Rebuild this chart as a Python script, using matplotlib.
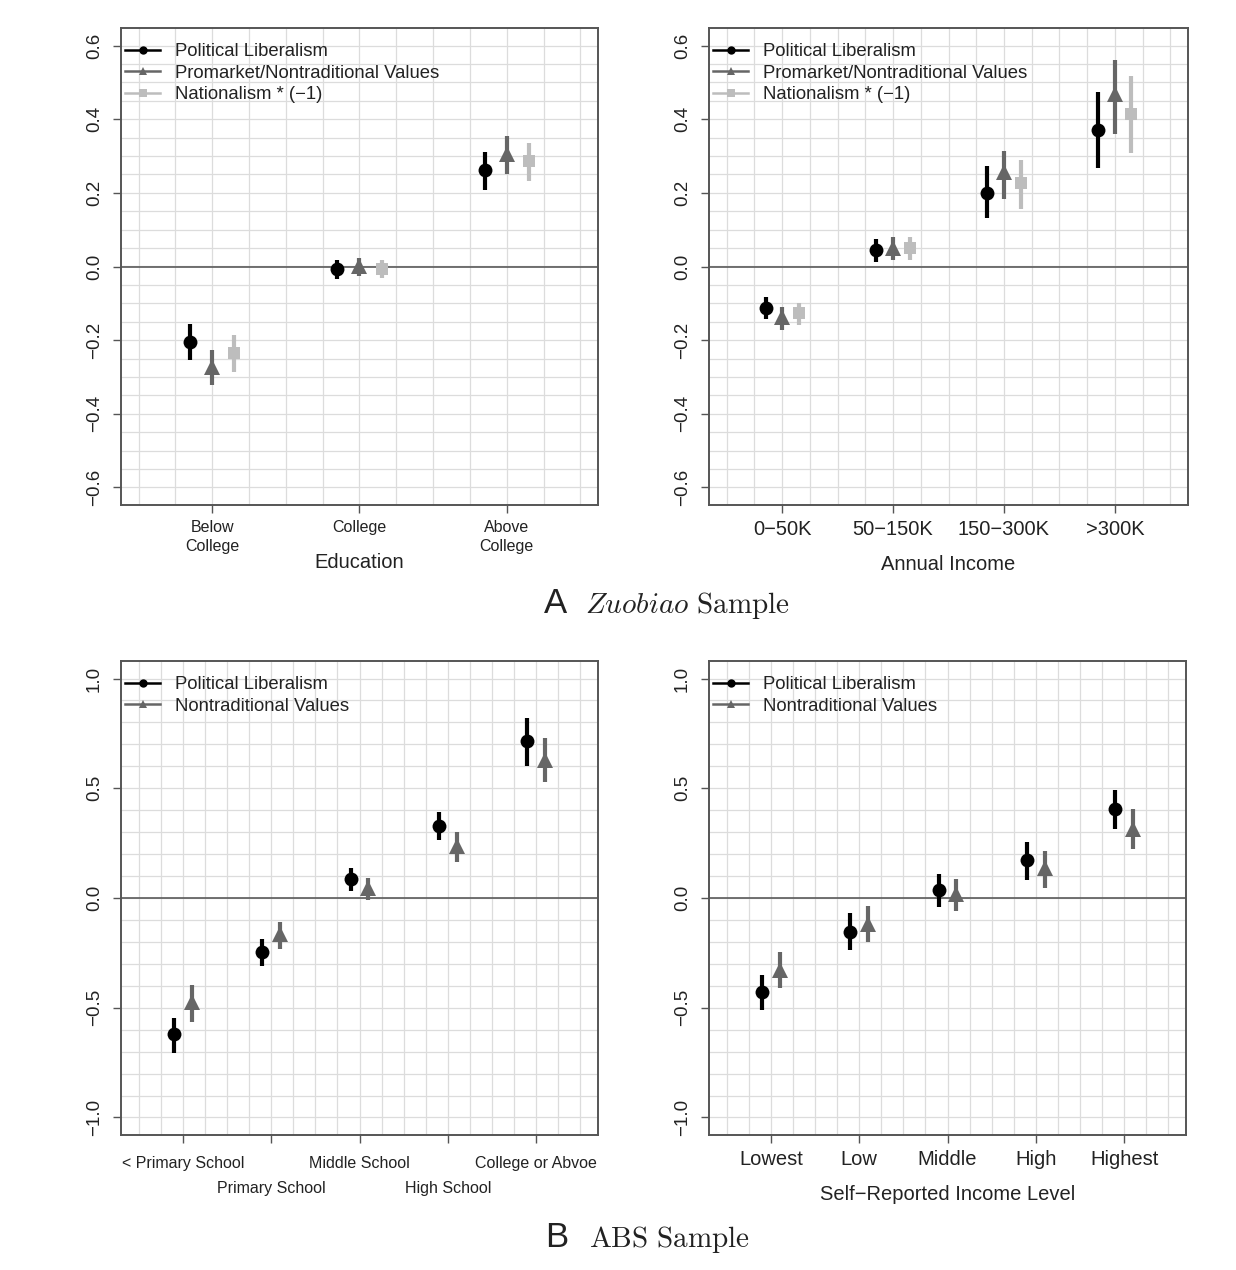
import numpy as np
import matplotlib
matplotlib.use("Agg")
import matplotlib.pyplot as plt
from matplotlib.lines import Line2D

plt.rcParams['font.family'] = ['Liberation Sans', 'DejaVu Sans']

# ---------------- data ----------------
edu_cats = ["Below\nCollege", "College", "Above\nCollege"]
edu_lib = [-0.205, -0.008, 0.261]
edu_lib_lo = [-0.254, -0.033, 0.208]
edu_lib_hi = [-0.157, 0.018, 0.312]
edu_mkt = [-0.272, 0.002, 0.305]
edu_mkt_lo = [-0.323, -0.027, 0.250]
edu_mkt_hi = [-0.227, 0.023, 0.354]
edu_nat = [-0.236, -0.008, 0.286]
edu_nat_lo = [-0.286, -0.030, 0.232]
edu_nat_hi = [-0.186, 0.018, 0.336]

inc_cats = ["0\u221250K", "50\u2212150K", "150\u2212300K", ">300K"]
inc_lib = [-0.113, 0.045, 0.200, 0.372]
inc_lib_lo = [-0.143, 0.013, 0.132, 0.267]
inc_lib_hi = [-0.083, 0.074, 0.272, 0.475]
inc_mkt = [-0.136, 0.051, 0.256, 0.468]
inc_mkt_lo = [-0.172, 0.018, 0.184, 0.360]
inc_mkt_hi = [-0.110, 0.079, 0.315, 0.562]
inc_nat = [-0.127, 0.049, 0.227, 0.414]
inc_nat_lo = [-0.158, 0.018, 0.155, 0.308]
inc_nat_hi = [-0.098, 0.079, 0.290, 0.518]

abs_edu_cats = ["< Primary School", "Primary School", "Middle School", "High School", "College or Abvoe"]
abs_edu_lib = [-0.621, -0.245, 0.087, 0.330, 0.714]
abs_edu_lib_lo = [-0.705, -0.310, 0.033, 0.265, 0.603]
abs_edu_lib_hi = [-0.545, -0.187, 0.137, 0.394, 0.820]
abs_edu_val = [-0.476, -0.164, 0.044, 0.239, 0.630]
abs_edu_val_lo = [-0.565, -0.233, -0.010, 0.162, 0.527]
abs_edu_val_hi = [-0.396, -0.108, 0.091, 0.300, 0.730]

abs_inc_cats = ["Lowest", "Low", "Middle", "High", "Highest"]
abs_inc_lib = [-0.430, -0.155, 0.038, 0.171, 0.404]
abs_inc_lib_lo = [-0.512, -0.236, -0.043, 0.083, 0.313]
abs_inc_lib_hi = [-0.350, -0.067, 0.109, 0.257, 0.492]
abs_inc_val = [-0.327, -0.118, 0.020, 0.137, 0.313]
abs_inc_val_lo = [-0.410, -0.200, -0.061, 0.046, 0.222]
abs_inc_val_hi = [-0.248, -0.038, 0.086, 0.216, 0.404]

labels3 = ["Political Liberalism", "Promarket/Nontraditional Values", "Nationalism * (\u22121)"]
labels2 = ["Political Liberalism", "Nontraditional Values"]

# ---------------- style ----------------
C_LIB, C_MKT, C_NAT = "#000000", "#666666", "#bdbdbd"
MARKERS = ["o", "^", "s"]
COLORS = [C_LIB, C_MKT, C_NAT]
MSIZES = [10, 11, 9]
FRAME = "#555555"
TXT = "#222222"
GRID = "#dcdcdc"

W, H = 1236, 1270
fig = plt.figure(figsize=(W / 100, H / 100), dpi=100)


def px_axes(l, t, r, b):
    return fig.add_axes([l / W, 1 - b / H, (r - l) / W, (b - t) / H])


def setup(ax, ncat, ylim, ystep, yticks, ytick_fs, ylabels):
    lo, hi = 0.5, ncat + 0.5
    ext = (hi - lo) * 0.04
    ax.set_xlim(lo - ext, hi + ext)
    ax.set_ylim(*ylim)
    for gx in np.arange(0.25, ncat + 0.76, 0.25):
        if lo - ext < gx < hi + ext:
            ax.axvline(gx, color=GRID, lw=0.9, zorder=0)
    for gy in np.arange(-1.2, 1.21, ystep):
        if ylim[0] < gy < ylim[1]:
            ax.axhline(gy, color=GRID, lw=0.9, zorder=0)
    ax.axhline(0, color="#5a5a5a", lw=1.2, zorder=1)
    for s in ax.spines.values():
        s.set_color(FRAME)
        s.set_linewidth(1.4)
    ax.set_yticks(yticks)
    ax.set_yticklabels(ylabels)
    ax.tick_params(axis="y", labelrotation=90, length=6, width=1, color=FRAME,
                   labelsize=ytick_fs, labelcolor=TXT, pad=7)
    for lab in ax.get_yticklabels():
        lab.set_verticalalignment("center")
    ax.tick_params(axis="x", length=6, width=1, color=FRAME, labelcolor=TXT)


def draw_series(ax, offsets, series):
    x0 = np.arange(1, len(series[0][0]) + 1)
    for k, (v, lo, hi) in enumerate(series):
        x = x0 + offsets[k]
        v = np.array(v); lo = np.array(lo); hi = np.array(hi)
        ax.vlines(x, lo, hi, color=COLORS[k], lw=3.0, zorder=3)
        ax.plot(x, v, linestyle="none", marker=MARKERS[k], color=COLORS[k],
                markersize=MSIZES[k], markeredgewidth=0, zorder=4)


def legend(ax, labels):
    handles = [Line2D([], [], color=COLORS[k], lw=1.8, marker=MARKERS[k], markersize=6,
                      markeredgewidth=0) for k in range(len(labels))]
    bb = ax.get_position()
    wpx = bb.width * W
    hpx = bb.height * H
    leg = ax.legend(handles, labels, loc="upper left",
                    bbox_to_anchor=(4 / wpx, 1 - 15 / hpx),
                    frameon=False, fontsize=13.3, handlelength=1.9, handletextpad=0.82,
                    labelspacing=0.25, borderaxespad=0.0, borderpad=0.0)
    for t in leg.get_texts():
        t.set_color(TXT)


top_ylim = (-0.648, 0.648)
top_yt = [-0.6, -0.4, -0.2, 0.0, 0.2, 0.4, 0.6]
top_yl = ["\u22120.6", "\u22120.4", "\u22120.2", "0.0", "0.2", "0.4", "0.6"]
bot_ylim = (-1.08, 1.08)
bot_yt = [-1.0, -0.5, 0.0, 0.5, 1.0]
bot_yl = ["\u22121.0", "\u22120.5", "0.0", "0.5", "1.0"]

# ---- Panel A left: Education ----
ax1 = px_axes(121, 28, 598, 505)
setup(ax1, 3, top_ylim, 0.05, top_yt, 13.5, top_yl)
draw_series(ax1, [-0.15, 0, 0.15],
            [(edu_lib, edu_lib_lo, edu_lib_hi), (edu_mkt, edu_mkt_lo, edu_mkt_hi),
             (edu_nat, edu_nat_lo, edu_nat_hi)])
ax1.set_xticks([1, 2, 3])
ax1.set_xticklabels(edu_cats, fontsize=11.5, linespacing=1.35)
ax1.tick_params(axis="x", pad=5)
ax1.set_xlabel("Education", fontsize=14.5, color=TXT, labelpad=-1)
legend(ax1, labels3)

# ---- Panel A right: Annual Income ----
ax2 = px_axes(709, 28, 1188, 505)
setup(ax2, 4, top_ylim, 0.05, top_yt, 13.5, top_yl)
draw_series(ax2, [-0.15, 0, 0.15],
            [(inc_lib, inc_lib_lo, inc_lib_hi), (inc_mkt, inc_mkt_lo, inc_mkt_hi),
             (inc_nat, inc_nat_lo, inc_nat_hi)])
ax2.set_xticks([1, 2, 3, 4])
ax2.set_xticklabels(inc_cats, fontsize=14.5)
ax2.tick_params(axis="x", pad=5)
ax2.set_xlabel("Annual Income", fontsize=14.5, color=TXT, labelpad=11.5)
legend(ax2, labels3)

# ---- Panel B left: Education (ABS) ----
ax3 = px_axes(121, 661, 598, 1135)
setup(ax3, 5, bot_ylim, 0.1, bot_yt, 13.5, bot_yl)
draw_series(ax3, [-0.1, 0.1],
            [(abs_edu_lib, abs_edu_lib_lo, abs_edu_lib_hi),
             (abs_edu_val, abs_edu_val_lo, abs_edu_val_hi)])
ax3.set_xticks([1, 3, 5])
ax3.set_xticklabels([abs_edu_cats[0], abs_edu_cats[2], abs_edu_cats[4]], fontsize=11.5)
ax3.set_xticks([2, 4], labels=[abs_edu_cats[1], abs_edu_cats[3]], minor=True)
ax3.tick_params(axis="x", which="major", pad=9)
ax3.tick_params(axis="x", which="minor", length=6, width=1, color=FRAME,
                labelsize=11.5, labelcolor=TXT, pad=27)
legend(ax3, labels2)

# ---- Panel B right: Income (ABS) ----
ax4 = px_axes(709, 661, 1186, 1135)
setup(ax4, 5, bot_ylim, 0.1, bot_yt, 13.5, bot_yl)
draw_series(ax4, [-0.1, 0.1],
            [(abs_inc_lib, abs_inc_lib_lo, abs_inc_lib_hi),
             (abs_inc_val, abs_inc_val_lo, abs_inc_val_hi)])
ax4.set_xticks([1, 2, 3, 4, 5])
ax4.set_xticklabels(abs_inc_cats, fontsize=14.5)
ax4.tick_params(axis="x", pad=5)
ax4.set_xlabel("Self\u2212Reported Income Level", fontsize=14.5, color=TXT, labelpad=11)
legend(ax4, labels2)

# ---- panel titles ----
fig.text(567 / W, 1 - 613 / H, "A", fontsize=25, ha="right", va="baseline", color=TXT)
fig.text(585 / W, 1 - 613 / H, r"$\mathit{Zuobiao}\ \mathrm{Sample}$", fontsize=21,
         ha="left", va="baseline", color=TXT, math_fontfamily="cm")
fig.text(568 / W, 1 - 1247 / H, "B", fontsize=25, ha="right", va="baseline", color=TXT)
fig.text(589 / W, 1 - 1247 / H, r"$\mathrm{ABS\ Sample}$", fontsize=21,
         ha="left", va="baseline", color=TXT, math_fontfamily="cm")

fig.savefig("out.png", dpi=100, facecolor="white")
